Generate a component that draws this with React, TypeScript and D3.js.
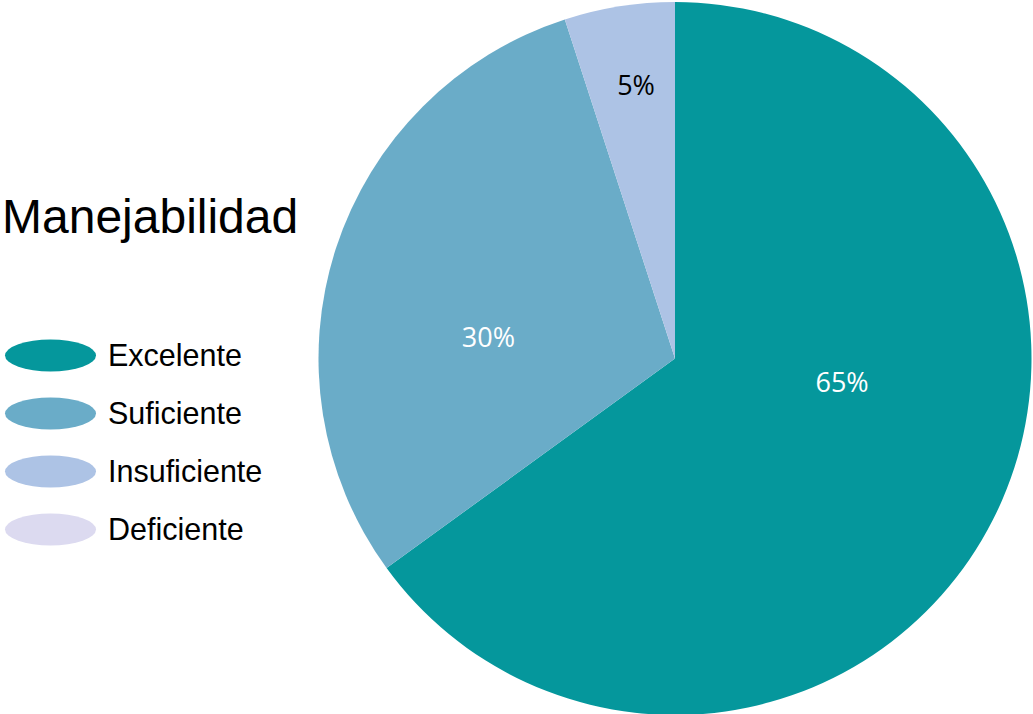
import React from "react";
import * as d3 from "d3";

const categories = ["Excelente", "Suficiente", "Insuficiente", "Deficiente"];
const values = [65, 30, 5, 0];
const colors = ["#05979C", "#6AACC8", "#ADC3E5", "#DCDAF0"];
const labelColors = ["#ffffff", "#ffffff", "#000000", "#000000"];
// label placement within each slice: fraction along the slice's angle, fraction of radius
const labelAngleFrac = [0.418, 0.395, 0.55, 0.5];
const labelRadiusFrac = [0.473, 0.527, 0.776, 0.7];
const title = "Manejabilidad";

const W = 1033;
const H = 714;
const cx = 675;
const cy = 358.5;
const R = 356.5;

export default function App() {
  const pie = d3.pie<number>().sort(null).value((d) => d)(values);
  const arc = d3.arc<d3.PieArcDatum<number>>().innerRadius(0).outerRadius(R);
  const total = d3.sum(values);
  const legendY = d3.scalePoint<string>().domain(categories).range([355.5, 529.5]);

  return (
    <svg
      width={W}
      height={H}
      style={{ position: "absolute", left: 0, top: 0, background: "#fff" }}
    >
      <g transform={`translate(${cx},${cy})`}>
        {pie.map((p, i) =>
          p.value > 0 ? <path key={i} d={arc(p) || ""} fill={colors[i]} /> : null
        )}
        {pie.map((p, i) => {
          if (p.value <= 0) return null;
          const a = p.startAngle + (p.endAngle - p.startAngle) * labelAngleFrac[i];
          const r = R * labelRadiusFrac[i];
          const x = r * Math.sin(a);
          const y = -r * Math.cos(a);
          return (
            <text
              key={"l" + i}
              x={x}
              y={y}
              textAnchor="middle"
              dominantBaseline="central"
              fill={labelColors[i]}
              fontFamily="'Open Sans', sans-serif"
              fontSize={27}
            >
              {Math.round((p.value / total) * 100) + "%"}
            </text>
          );
        })}
      </g>
      <text x={2} y={233} fontFamily="'Liberation Sans', Arial, sans-serif" fontSize={48} fill="#000">
        {title}
      </text>
      {categories.map((c, i) => (
        <g key={c} transform={`translate(0,${legendY(c)})`}>
          <ellipse cx={50.5} cy={0} rx={45.5} ry={16} fill={colors[i]} />
          <text
            x={108}
            y={10.5}
            fontFamily="'Liberation Sans', Arial, sans-serif"
            fontSize={30.5}
            fill="#000"
          >
            {c}
          </text>
        </g>
      ))}
    </svg>
  );
}
